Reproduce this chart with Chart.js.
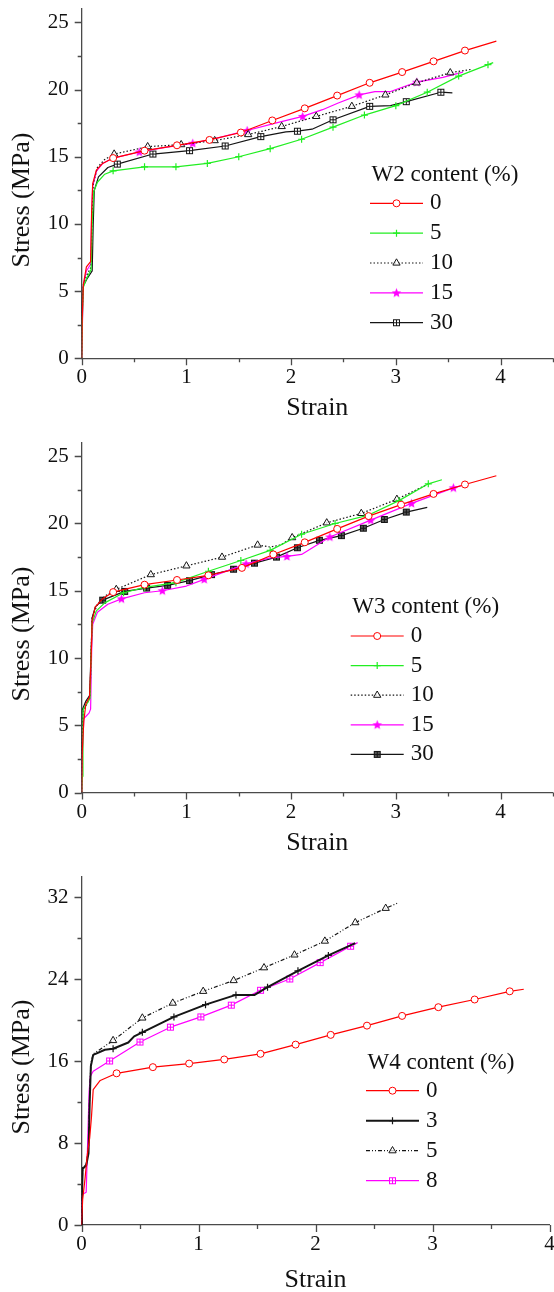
<!DOCTYPE html>
<html>
<head>
<meta charset="utf-8">
<script src="https://cdn.jsdelivr.net/npm/chart.js@4.4.1/dist/chart.umd.min.js"></script>
<style>
  html, body { margin: 0; padding: 0; background: #fff; }
  #wrap { position: relative; width: 554px; height: 1292px; overflow: hidden; }
  canvas { position: absolute; left: 0; }
</style>
</head>
<body>
<div id="wrap">
  <canvas id="c1" width="554" height="420" style="top:0px"></canvas>
  <canvas id="c2" width="554" height="440" style="top:420px"></canvas>
  <canvas id="c3" width="554" height="432" style="top:860px"></canvas>
</div>
<script>
// ---- data (strain, stress MPa) ----
// "Line" = points on the curve, "Mark" = points where a symbol sits

// W2 panel
const w2Labels = ["0", "5", "10", "15", "30"];
const w2Line0 = [[0,0],[0.005,3],[0.016,5.5],[0.045,6.8],[0.085,7.2],[0.095,11],[0.105,13],[0.14,14],[0.2,14.5],[3.96,23.6]];
const w2Mark0 = [[0.3,14.9],[0.6,15.45],[0.91,15.85],[1.22,16.25],[1.52,16.8],[1.82,17.7],[2.13,18.6],[2.44,19.55],[2.75,20.5],[3.06,21.3],[3.36,22.1],[3.66,22.9]];
const w2Line5 = [[0,0],[0.005,2.5],[0.016,5.3],[0.05,6],[0.09,6.6],[0.1,10],[0.115,12.4],[0.15,13.1],[0.22,13.7],[3.93,22]];
const w2Mark5 = [[0.3,13.95],[0.6,14.25],[0.9,14.25],[1.2,14.5],[1.5,15],[1.8,15.6],[2.1,16.3],[2.4,17.2],[2.7,18.1],[3,18.8],[3.3,19.8],[3.6,21],[3.88,21.85]];
const w2Line10 = [[0,0],[0.005,3.5],[0.016,5.5],[0.05,6.2],[0.09,6.8],[0.1,10.5],[0.11,13],[0.15,14.2],[0.22,14.8],[3.72,21.5]];
const w2Mark10 = [[0.31,15.2],[0.63,15.75],[0.95,15.9],[1.27,16.2],[1.59,16.65],[1.91,17.25],[2.24,18],[2.58,18.75],[2.9,19.6],[3.2,20.5],[3.52,21.25]];
const w2Line15 = [[0,0],[0.005,2],[0.016,5.4],[0.045,6.5],[0.085,7],[0.095,10.5],[0.105,12.8],[0.14,13.9],[0.2,14.5],[0.3,14.9],[0.8,15.7],[1.3,16.4],[1.85,17.5],[2.3,18.5],[2.45,19],[2.8,19.85],[2.95,19.85],[3.45,20.9],[3.64,21.3]];
const w2Mark15 = [[0.55,15.35],[1.06,16],[1.58,16.95],[2.11,18],[2.65,19.6],[3.2,20.55]];
const w2Line30 = [[0,0],[0.003,4.2],[0.016,5.4],[0.05,5.9],[0.1,6.5],[0.11,10],[0.12,12.5],[0.16,13.5],[0.25,14.2],[1.95,16.85],[2.2,17.05],[2.95,18.8],[3.54,19.75]];
const w2Mark30 = [[0.34,14.45],[0.68,15.2],[1.03,15.45],[1.37,15.8],[1.71,16.5],[2.06,16.9],[2.4,17.75],[2.75,18.75],[3.1,19.1],[3.43,19.8]];

// W3 panel
const w3Labels = ["0", "5", "10", "15", "30"];
const w3Line0 = [[0,0],[0.005,3],[0.02,5.3],[0.04,6.6],[0.075,7.1],[0.09,10],[0.1,12.8],[0.13,13.8],[0.2,14.4],[3.96,23.55]];
const w3Mark0 = [[0.3,14.9],[0.6,15.45],[0.91,15.8],[1.21,16.15],[1.53,16.7],[1.83,17.7],[2.13,18.6],[2.44,19.6],[2.74,20.55],[3.05,21.4],[3.36,22.2],[3.66,22.9]];
const w3Line5 = [[0,0],[0.005,1.2],[0.012,4],[0.015,6.2],[0.05,6.6],[0.08,7],[0.09,10],[0.1,12.6],[0.14,13.5],[0.22,14.1],[3.44,23.25]];
const w3Mark5 = [[0.4,14.85],[0.6,15.25],[0.9,15.6],[1.21,16.45],[1.52,17.25],[1.8,18],[2.1,19.2],[2.42,20],[2.73,20.6],[3.03,21.7],[3.31,22.95]];
const w3Line10 = [[0,0],[0.004,4],[0.015,6],[0.05,6.6],[0.08,7.1],[0.09,10.5],[0.1,13],[0.15,14],[0.22,14.6],[1.8,18.25],[1.9,18.4],[3.3,22.9]];
const w3Mark10 = [[0.33,15.1],[0.66,16.2],[1,16.85],[1.34,17.5],[1.68,18.4],[2.01,18.95],[2.34,20.05],[2.67,20.75],[3.01,21.8]];
const w3Line15 = [[0,0],[0.005,2.5],[0.02,5.5],[0.07,5.9],[0.085,6.2],[0.095,10.5],[0.105,12.5],[0.15,13.4],[0.25,14],[0.6,14.85],[1,15.35],[1.8,17.45],[2.1,17.7],[3.62,22.8]];
const w3Mark15 = [[0.38,14.4],[0.77,15],[1.17,15.85],[1.57,17],[1.96,17.55],[2.37,19],[2.76,20.25],[3.15,21.5],[3.55,22.65]];
const w3Line30 = [[0,0],[0.003,6.1],[0.04,6.8],[0.075,7.2],[0.09,10.5],[0.1,13],[0.13,13.8],[3.3,21.2]];
const w3Mark30 = [[0.2,14.3],[0.41,14.95],[0.62,15.2],[0.82,15.4],[1.03,15.75],[1.24,16.2],[1.45,16.6],[1.65,17.05],[1.86,17.5],[2.06,18.2],[2.27,18.75],[2.48,19.1],[2.69,19.65],[2.89,20.3],[3.1,20.85]];

// W4 panel
const w4Labels = ["0", "3", "5", "8"];
const w4Line0 = [[0,0],[0.01,2.5],[0.03,4.5],[0.05,6.9],[0.07,8.5],[0.085,10.5],[0.1,13.2],[0.16,14.1],[3.78,23]];
const w4Mark0 = [[0.3,14.8],[0.61,15.4],[0.92,15.75],[1.22,16.15],[1.53,16.7],[1.83,17.6],[2.13,18.55],[2.44,19.45],[2.74,20.4],[3.05,21.25],[3.36,22],[3.66,22.8]];
const w4Line3 = [[0,0],[0.004,3],[0.01,5.5],[0.04,5.8],[0.06,7],[0.07,12],[0.08,15.5],[0.1,16.6],[0.2,17.1],[0.4,17.8],[0.45,18.4],[1.48,22.45],[2.34,27.5]];
const w4Mark3 = [[0.27,17.2],[0.52,18.8],[0.79,20.3],[1.06,21.5],[1.32,22.45],[1.59,23.2],[1.85,24.8],[2.11,26.3]];
const w4Line5 = [[0,0],[0.005,3.5],[0.01,5.6],[0.04,5.9],[0.06,7.5],[0.07,13],[0.08,15.8],[0.1,16.7],[0.18,17.3],[2.7,31.4]];
const w4Mark5 = [[0.27,18],[0.52,20.2],[0.78,21.65],[1.04,22.8],[1.3,23.85],[1.56,25.1],[1.82,26.35],[2.08,27.7],[2.34,29.5],[2.6,30.9]];
const w4Line8 = [[0,0],[0.003,2.5],[0.01,3],[0.04,3.2],[0.05,7],[0.065,13],[0.075,14.5],[0.1,15],[2.36,27.55]];
const w4Mark8 = [[0.24,16],[0.5,17.85],[0.76,19.3],[1.02,20.3],[1.28,21.45],[1.53,22.9],[1.78,24],[2.04,25.6],[2.3,27.2]];

// axes
const xTicksA = [0, 1, 2, 3, 4];
const yTicksA = [0, 5, 10, 15, 20, 25];
const xTicksB = [0, 1, 2, 3, 4];
const yTicksB = [0, 8, 16, 24, 32];

// ---- styling ----
const SERIF = '"Liberation Serif", "Times New Roman", serif';
const AXIS = "#4a4a4a";
const TXT = "#111";
const RED = "#ff0000", GREEN = "#22ee22", MAG = "#ff00ff", BLK = "#151515";

function boxImg(stroke, fill) {
  const c = document.createElement("canvas");
  c.width = c.height = 9;
  const g = c.getContext("2d");
  g.fillStyle = fill;
  g.fillRect(1, 1, 7, 7);
  g.strokeStyle = stroke;
  g.lineWidth = 1;
  g.strokeRect(1.5, 1.5, 6, 6);
  g.beginPath();
  g.moveTo(4.5, 1.5); g.lineTo(4.5, 7.5);
  g.moveTo(1.5, 4.5); g.lineTo(7.5, 4.5);
  g.stroke();
  return c;
}

function starImg(color) {
  const c = document.createElement("canvas");
  c.width = c.height = 11;
  const g = c.getContext("2d");
  g.beginPath();
  for (let i = 0; i < 10; i++) {
    const a = -Math.PI / 2 + i * Math.PI / 5;
    const r = i % 2 ? 2.2 : 5;
    g.lineTo(5.5 + r * Math.cos(a), 5.8 + r * Math.sin(a));
  }
  g.closePath();
  g.fillStyle = color;
  g.fill();
  return c;
}

const sCircle = { borderColor: RED, pointStyle: "circle", pointBorderColor: RED, pointBackgroundColor: "#fff", pointBorderWidth: 1, mr: 3.5 };
const sCross = (col, w) => ({ borderColor: col, borderWidth: w, pointStyle: "cross", pointBorderColor: col, pointBackgroundColor: col, pointBorderWidth: 1.2, mr: 3.5 });
const sTri = dash => ({ borderColor: BLK, borderDash: dash, pointStyle: "triangle", pointBorderColor: BLK, pointBackgroundColor: "rgba(255,255,255,0.75)", pointBorderWidth: 1, mr: 4.2 });
const sStar = { borderColor: MAG, pointStyle: starImg(MAG), pointBorderColor: MAG, pointBackgroundColor: MAG, pointBorderWidth: 1, mr: 4 };
const sBox = (col, stroke, fill) => ({ borderColor: col, pointStyle: boxImg(stroke, fill), pointBorderColor: stroke, pointBackgroundColor: fill, pointBorderWidth: 1, mr: 4 });

function pts(line, marks) {
  return line.map(p => ({ x: p[0], y: p[1], m: false }))
    .concat(marks.map(p => ({ x: p[0], y: p[1], m: true })))
    .sort((a, b) => a.x - b.x);
}

function series(line, marks, style) {
  const ds = Object.assign({
    data: pts(line, marks),
    borderWidth: 1.2,
    borderDash: [],
    showLine: true,
    tension: 0,
    fill: false,
    borderJoinStyle: "round",
  }, style);
  ds.pointRadius = c => (c.raw && c.raw.m ? ds.mr : 0);
  ds.pointHoverRadius = 0;
  return ds;
}

// draws tick marks, axis titles and the in-plot legend
function decoPlugin(cfg) {
  return {
    id: "deco",
    afterDraw(chart) {
      const { ctx, chartArea: ca } = chart;
      const xs = chart.scales.x, ys = chart.scales.y;
      ctx.save();
      ctx.strokeStyle = AXIS;
      ctx.lineWidth = 1.3;
      ctx.beginPath();
      const xMaj = cfg.xTicks, yMaj = cfg.yTicks;
      const xStep = xMaj[1] - xMaj[0], yStep = yMaj[1] - yMaj[0];
      for (let v = 0; v <= cfg.xMax + 1e-9; v += xStep / 2) {
        const px = Math.round(xs.getPixelForValue(v)) + 0.5;
        const major = Math.abs(v / xStep - Math.round(v / xStep)) < 1e-6;
        ctx.moveTo(px, ca.bottom);
        ctx.lineTo(px, ca.bottom + (major ? 7 : 4));
      }
      for (let v = 0; v <= cfg.yMax + 1e-9; v += yStep / 2) {
        const py = Math.round(ys.getPixelForValue(v)) + 0.5;
        const major = Math.abs(v / yStep - Math.round(v / yStep)) < 1e-6;
        ctx.moveTo(ca.left, py);
        ctx.lineTo(ca.left - (major ? 7 : 4), py);
      }
      ctx.stroke();

      // axis titles
      ctx.fillStyle = TXT;
      ctx.font = "26px " + SERIF;
      ctx.textAlign = "center";
      ctx.textBaseline = "middle";
      ctx.fillText("Strain", (ca.left + ca.right) / 2, cfg.xTitleY);
      ctx.save();
      ctx.translate(22, cfg.yTitleY);
      ctx.rotate(-Math.PI / 2);
      ctx.fillText("Stress (MPa)", 0, 0);
      ctx.restore();

      // legend
      const lg = cfg.legend;
      ctx.textAlign = "left";
      ctx.font = "23px " + SERIF;
      ctx.fillText(lg.title, lg.x + 1.5, lg.titleY);
      chart.data.datasets.forEach((ds, i) => {
        const y = lg.y0 + i * lg.rowH;
        ctx.save();
        ctx.strokeStyle = ds.borderColor;
        ctx.lineWidth = ds.borderWidth;
        ctx.setLineDash(ds.borderDash || []);
        ctx.beginPath();
        ctx.moveTo(lg.x, y);
        ctx.lineTo(lg.x + 53, y);
        ctx.stroke();
        ctx.setLineDash([]);
        ctx.strokeStyle = ds.pointBorderColor;
        ctx.fillStyle = ds.pointBackgroundColor;
        ctx.lineWidth = ds.pointBorderWidth;
        Chart.helpers.drawPoint(ctx, { pointStyle: ds.pointStyle, radius: ds.mr, rotation: 0, borderWidth: ds.pointBorderWidth }, lg.x + 26.5, y);
        ctx.restore();
        ctx.fillStyle = TXT;
        ctx.fillText(ds.label, lg.x + 60, y);
      });
      ctx.restore();
    },
  };
}

function makeChart(id, cfg) {
  const canvas = document.getElementById(id);
  const W = canvas.width, H = canvas.height;
  const a = cfg.area;
  const tickFont = { family: SERIF, size: 21 };
  return new Chart(canvas, {
    type: "scatter",
    data: { datasets: cfg.datasets },
    options: {
      responsive: false,
      animation: false,
      events: [],
      layout: { autoPadding: false, padding: { left: 0, top: a.t, right: W - a.r, bottom: 0 } },
      plugins: { legend: { display: false }, tooltip: { enabled: false } },
      scales: {
        x: {
          type: "linear",
          min: 0,
          max: cfg.xMax,
          afterBuildTicks: s => { s.ticks = cfg.xTicks.map(v => ({ value: v })); },
          afterFit: s => { s.height = H - a.b; s.paddingLeft = 0; s.paddingRight = 0; },
          grid: { display: false, drawTicks: false },
          border: { display: true, color: AXIS, width: 1.3 },
          ticks: { color: TXT, font: tickFont, padding: 7, maxRotation: 0, autoSkip: false, callback: v => String(v) },
        },
        y: {
          type: "linear",
          min: 0,
          max: cfg.yMax,
          afterBuildTicks: s => { s.ticks = cfg.yTicks.map(v => ({ value: v })); },
          afterFit: s => { s.width = a.l; s.paddingTop = 0; s.paddingBottom = 0; },
          grid: { display: false, drawTicks: false },
          border: { display: true, color: AXIS, width: 1.3 },
          ticks: { color: TXT, font: tickFont, padding: 13, autoSkip: false, callback: v => String(v) },
        },
      },
    },
    plugins: [decoPlugin(cfg)],
  });
}

function withLabels(list, labels) {
  list.forEach((ds, i) => { ds.label = labels[i]; });
  return list;
}

makeChart("c1", {
  area: { l: 81.7, r: 552.9, t: 8.9, b: 358.3 },
  xMax: 4.5, yMax: 26, xTicks: xTicksA, yTicks: yTicksA,
  xTitleY: 408, yTitleY: 200,
  legend: { title: "W2 content (%)", x: 370, titleY: 175, y0: 203.3, rowH: 29.85 },
  datasets: withLabels([
    series(w2Line0, w2Mark0, sCircle),
    series(w2Line5, w2Mark5, sCross(GREEN, 1.2)),
    series(w2Line10, w2Mark10, sTri([1.5, 2])),
    series(w2Line15, w2Mark15, sStar),
    series(w2Line30, w2Mark30, sBox(BLK, BLK, "#fff")),
  ], w2Labels),
});

makeChart("c2", {
  area: { l: 81.7, r: 552.9, t: 22.8, b: 372.5 },
  xMax: 4.5, yMax: 26, xTicks: xTicksA, yTicks: yTicksA,
  xTitleY: 423.3, yTitleY: 214,
  legend: { title: "W3 content (%)", x: 350.7, titleY: 186.7, y0: 216, rowH: 29.6 },
  datasets: withLabels([
    series(w3Line0, w3Mark0, sCircle),
    series(w3Line5, w3Mark5, sCross(GREEN, 1.2)),
    series(w3Line10, w3Mark10, sTri([1.5, 2])),
    series(w3Line15, w3Mark15, sStar),
    series(w3Line30, w3Mark30, sBox(BLK, BLK, "#555")),
  ], w3Labels),
});

makeChart("c3", {
  area: { l: 81.5, r: 549.5, t: 16.5, b: 365 },
  xMax: 4, yMax: 34, xTicks: xTicksB, yTicks: yTicksB,
  xTitleY: 420, yTitleY: 207,
  legend: { title: "W4 content (%)", x: 366, titleY: 203, y0: 230.7, rowH: 30 },
  datasets: withLabels([
    series(w4Line0, w4Mark0, sCircle),
    series(w4Line3, w4Mark3, sCross(BLK, 2)),
    series(w4Line5, w4Mark5, sTri([4, 2, 1, 2, 1, 2])),
    series(w4Line8, w4Mark8, sBox(MAG, MAG, "#fff")),
  ], w4Labels),
});
</script>
</body>
</html>
